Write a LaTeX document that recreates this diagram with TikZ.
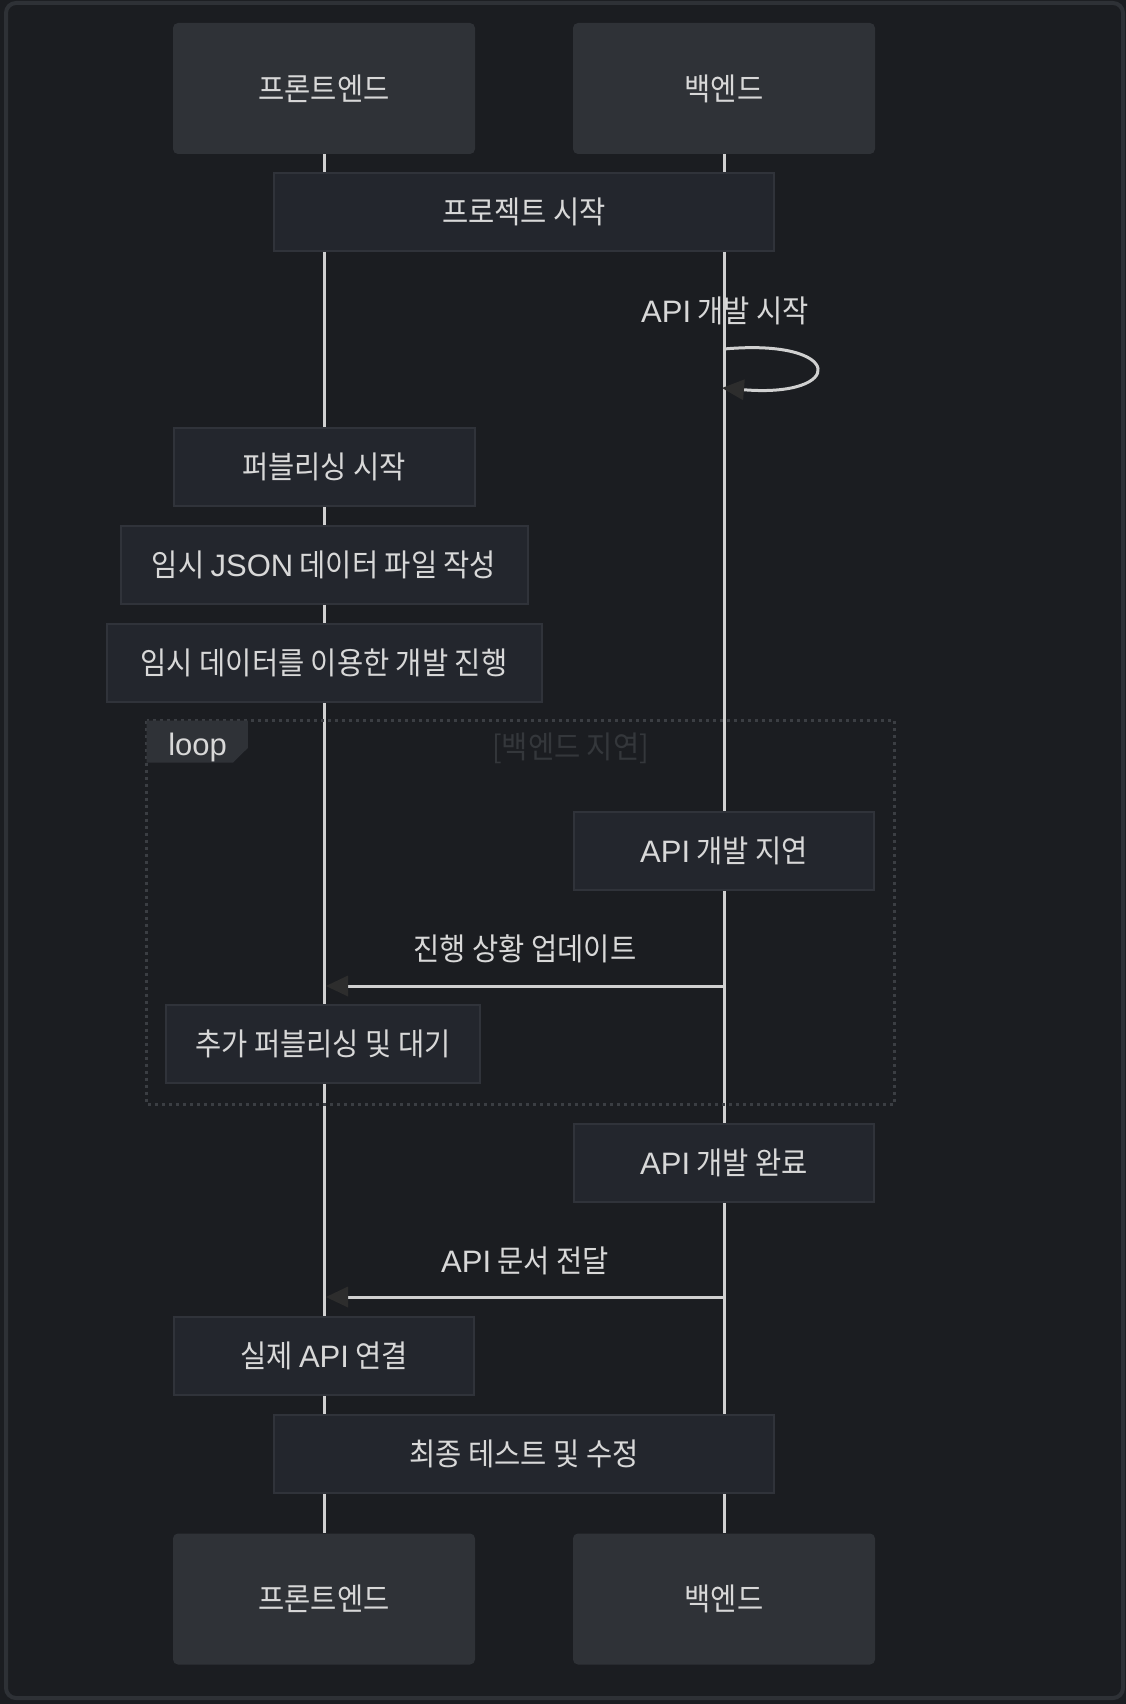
\documentclass[tikz,border=0pt]{standalone}
\usepackage{fontspec}
\setmainfont[FakeStretch=0.92]{Noto Sans CJK KR}
\newfontfamily\lat{Liberation Sans}
\usetikzlibrary{arrows.meta}
\definecolor{bgin}{HTML}{1B1D21}
\definecolor{frameline}{HTML}{2E3136}
\definecolor{actorfill}{HTML}{2F3237}
\definecolor{notefill}{HTML}{23262D}
\definecolor{noteline}{HTML}{30333A}
\definecolor{txt}{HTML}{D8D8D8}
\definecolor{lifec}{HTML}{D0D0D0}
\definecolor{arrowc}{HTML}{2D2D2D}
\definecolor{loopline}{HTML}{3B3E43}
\definecolor{dimtxt}{HTML}{34373B}
\tikzset{
  basefont/.style={font=\fontsize{31}{36}\selectfont},
  actor/.style={basefont, rectangle, rounded corners=5pt, fill=actorfill, text=txt,
    minimum width=302pt, minimum height=131pt, inner sep=0pt},
  notebox/.style={basefont, rectangle, fill=notefill, draw=noteline, line width=2pt,
    text=txt, minimum height=78pt, inner sep=0pt},
  lifeline/.style={draw=lifec, line width=3pt},
  msg/.style={draw=lifec, line width=3pt,
    -{Triangle[length=22pt,width=21pt,line width=0pt,fill=arrowc,color=arrowc]}},
  msglabel/.style={basefont, text=txt, inner sep=0pt},
  loopframe/.style={draw=loopline, line width=3pt, dash pattern=on 3pt off 4pt},
}
\begin{document}
\begin{tikzpicture}[x=1pt,y=-1pt]
\useasboundingbox (0,0) rectangle (1126,1704);
\fill[bgin] (0,0) rectangle (1126,1704);
\draw[frameline, line width=4pt, rounded corners=10pt] (6,3) rectangle (1123,1698);

% participants
\node[actor] (fa) at (324,88.5) {프론트엔드};
\node[actor] (fb) at (724,88.5) {백엔드};
\node[actor] (fa2) at (324,1599) {프론트엔드};
\node[actor] (fb2) at (724,1599) {백엔드};

% lifelines
\draw[lifeline] (fa.south) -- (fa2.north);
\draw[lifeline] (fb.south) -- (fb2.north);

% loop frame
\draw[loopframe] (146.7,720.6) rectangle (894.5,1104.3);
\fill[actorfill] (146.7,720.6) -- (247.8,720.6) -- (247.8,748) -- (233,762.5) -- (146.7,762.5) -- cycle;
\node[msglabel, font=\lat\fontsize{31}{36}\selectfont] (looplbl) at (197.6,747) {loop};
\node[msglabel, text=dimtxt] (loopcond) at (570.6,748) {[백엔드 지연]};

% notes
\node[notebox, minimum width=500pt] (n1) at (524,212) {프로젝트 시작};
\node[notebox, minimum width=301pt] (n2) at (324,467) {퍼블리싱 시작};
\node[notebox, minimum width=407pt] (n3) at (324,565) {임시 {\lat JSON} 데이터 파일 작성};
\node[notebox, minimum width=435pt] (n4) at (324,663) {임시 데이터를 이용한 개발 진행};
\node[notebox, minimum width=300pt] (n5) at (724,850.5) {{\lat API} 개발 지연};
\node[notebox, minimum width=314pt] (n6) at (323,1044) {추가 퍼블리싱 및 대기};
\node[notebox, minimum width=300pt] (n7) at (724,1162.5) {{\lat API} 개발 완료};
\node[notebox, minimum width=300pt] (n8) at (324,1356) {실제 {\lat API} 연결};
\node[notebox, minimum width=500pt] (n9) at (524,1454) {최종 테스트 및 수정};

% self message
\coordinate (s1) at (724,349);
\coordinate (s2) at (722,388);
\node[msglabel] (slbl) at (725,311) {{\lat API} 개발 시작};
\draw[msg] (s1) .. controls (846,338) and (846,398) .. (s2);

% messages
\coordinate (m1b) at (724,986);
\coordinate (m1f) at (326,986);
\draw[msg] (m1b) -- node[msglabel, midway, yshift=37pt] (m1lbl) {진행 상황 업데이트} (m1f);

\coordinate (m2b) at (724,1297);
\coordinate (m2f) at (326,1297);
\draw[msg] (m2b) -- node[msglabel, midway, yshift=36pt] (m2lbl) {{\lat API} 문서 전달} (m2f);
\end{tikzpicture}
\end{document}
